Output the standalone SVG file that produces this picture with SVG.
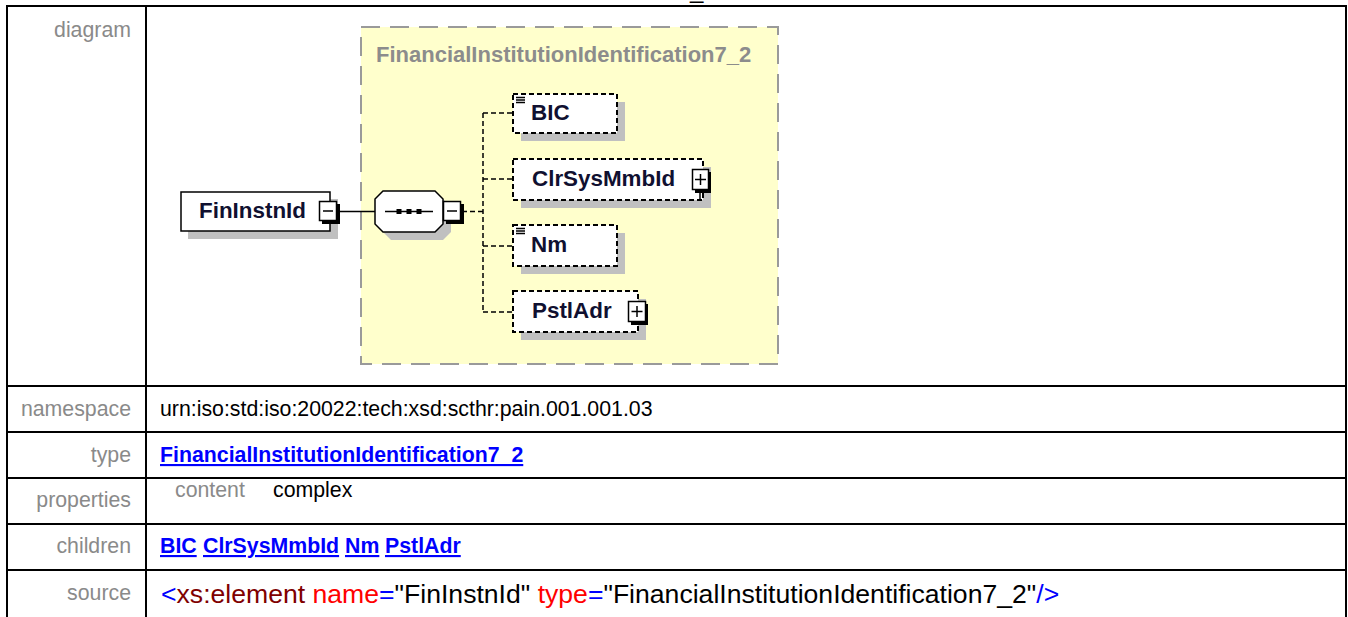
<svg xmlns="http://www.w3.org/2000/svg" width="1348" height="617" viewBox="0 0 1348 617">
<style>
.tl{stroke:#000;stroke-width:2;fill:none}
.lab{font-family:"Liberation Sans",Arial,sans-serif;font-size:21.3px;fill:#8a8a8a;text-anchor:end}
.val{font-family:"Liberation Sans",Arial,sans-serif;font-size:21.3px;fill:#000}
.lnk{font-family:"Liberation Sans",Arial,sans-serif;font-size:21.3px;font-weight:bold;fill:#0000ff;text-decoration:underline}
.src{font-family:"Liberation Sans",Arial,sans-serif;font-size:26.6px}
.nt{font-family:"Liberation Sans",Arial,sans-serif;font-size:22.4px;font-weight:bold;fill:#101030}
.shadow{fill:#c0c0c0}
.box{fill:#fff;stroke:#000;stroke-width:1.5}
.dbox{fill:#fff;stroke:#000;stroke-width:2;stroke-dasharray:5 3}
.btn{fill:#fff;stroke:#000;stroke-width:1.5}
.btnsh{fill:#000}
.sym{stroke:#000;stroke-width:1.5;fill:none}
.conn{stroke:#000;stroke-width:1.5;fill:none}
.dconn{stroke:#000;stroke-width:1.5;fill:none;stroke-dasharray:5 3}
</style>

<text x="690" y="-2.5" font-family="Liberation Sans, Arial, sans-serif" font-size="24" fill="#000">_</text>

<!-- table -->
<g id="table">
  <rect x="7" y="6" width="1339" height="640" class="tl"/>
  <line x1="146" y1="6" x2="146" y2="617" class="tl"/>
  <line x1="7" y1="386" x2="1346" y2="386" class="tl"/>
  <line x1="7" y1="432" x2="1346" y2="432" class="tl"/>
  <line x1="7" y1="478" x2="1346" y2="478" class="tl"/>
  <line x1="7" y1="524" x2="1346" y2="524" class="tl"/>
  <line x1="7" y1="570" x2="1346" y2="570" class="tl"/>
  <text x="131" y="37" class="lab">diagram</text>
  <text x="131" y="416" class="lab">namespace</text>
  <text x="131" y="462" class="lab">type</text>
  <text x="131" y="507" class="lab">properties</text>
  <text x="131" y="553" class="lab">children</text>
  <text x="131" y="600" class="lab">source</text>
  <text x="160" y="416" class="val">urn:iso:std:iso:20022:tech:xsd:scthr:pain.001.001.03</text>
  <text x="160" y="462" class="lnk">FinancialInstitutionIdentification7_2</text>
  <text x="175" y="497" class="val" style="fill:#8a8a8a">content</text>
  <text x="273" y="497" class="val">complex</text>
  <text x="160" y="553" class="lnk">BIC</text>
  <text x="203" y="553" class="lnk">ClrSysMmbId</text>
  <text x="345" y="553" class="lnk">Nm</text>
  <text x="385" y="553" class="lnk">PstlAdr</text>
  <text x="161" y="603" class="src"><tspan fill="#0000ff">&lt;</tspan><tspan fill="#800000">xs:element</tspan><tspan fill="#ff0000"> name</tspan><tspan fill="#0000ff">=</tspan><tspan fill="#000">"FinInstnId"</tspan><tspan fill="#ff0000"> type</tspan><tspan fill="#0000ff">=</tspan><tspan fill="#000">"FinancialInstitutionIdentification7_2"</tspan><tspan fill="#0000ff">/&gt;</tspan></text>
</g>

<!-- complex type container -->
<g id="type-box">
  <rect x="361" y="27" width="417" height="337" fill="#ffffcc" stroke="#9a9a9a" stroke-width="2" stroke-dasharray="19 10"/>
  <text x="376" y="62" font-family="Liberation Sans, Arial, sans-serif" font-size="22px" font-weight="bold" fill="#8c8c8c">FinancialInstitutionIdentification7_2</text>
</g>

<!-- connectors -->
<g id="connectors">
  <line x1="337" y1="211.5" x2="375" y2="211.5" class="conn"/>
  <line x1="462" y1="211.5" x2="483" y2="211.5" class="dconn"/>
  <line x1="483" y1="113" x2="483" y2="312" class="dconn"/>
  <line x1="483" y1="113" x2="513" y2="113" class="dconn"/>
  <line x1="483" y1="179" x2="513" y2="179" class="dconn"/>
  <line x1="483" y1="246" x2="513" y2="246" class="dconn"/>
  <line x1="483" y1="312" x2="513" y2="312" class="dconn"/>
</g>

<!-- root element -->
<g id="FinInstnId">
  <rect x="188" y="199" width="150" height="40" class="shadow"/>
  <rect x="181" y="192" width="149" height="39" class="box"/>
  <text x="199" y="218" class="nt">FinInstnId</text>
  <rect x="322" y="204" width="18" height="20" class="btnsh"/>
  <rect x="319.5" y="201.5" width="17" height="19" class="btn"/>
  <line x1="323" y1="211" x2="333" y2="211" class="sym"/>
</g>

<!-- sequence compositor -->
<g id="sequence">
  <polygon points="391,199 443,199 451,207 451,232 443,240 391,240 383,232 383,207" class="shadow"/>
  <polygon points="383,191 435,191 443,199 443,224 435,232 383,232 375,224 375,199" class="box"/>
  <line x1="385" y1="211.5" x2="433" y2="211.5" class="sym"/>
  <rect x="396.5" y="209" width="5" height="5" fill="#000"/>
  <rect x="406.5" y="209" width="5" height="5" fill="#000"/>
  <rect x="416.5" y="209" width="5" height="5" fill="#000"/>
  <rect x="446" y="204" width="18" height="20" class="btnsh"/>
  <rect x="443.5" y="201.5" width="17" height="19" class="btn"/>
  <line x1="447" y1="211" x2="457" y2="211" class="sym"/>
</g>

<!-- children -->
<g id="BIC">
  <rect x="521" y="102" width="104" height="39" class="shadow"/>
  <rect x="513" y="94" width="104" height="39" class="dbox"/>
  <line x1="516" y1="97.5" x2="525" y2="97.5" class="sym" stroke-width="1"/>
  <line x1="516" y1="100" x2="525" y2="100" class="sym" stroke-width="1"/>
  <line x1="516" y1="102.5" x2="525" y2="102.5" class="sym" stroke-width="1"/>
  <text x="531" y="120" class="nt">BIC</text>
</g>

<g id="ClrSysMmbId">
  <rect x="521" y="167" width="190" height="41" class="shadow"/>
  <rect x="513" y="159" width="190" height="41" class="dbox"/>
  <text x="532" y="186" class="nt">ClrSysMmbId</text>
  <line x1="700" y1="190" x2="700" y2="200" class="sym"/>
  <rect x="695" y="172" width="16" height="21" class="btnsh"/>
  <rect x="692.5" y="169.5" width="16" height="20" class="btn"/>
  <line x1="695" y1="179.5" x2="706" y2="179.5" class="sym"/>
  <line x1="700.5" y1="174" x2="700.5" y2="185" class="sym"/>
</g>

<g id="Nm">
  <rect x="521" y="233" width="104" height="41" class="shadow"/>
  <rect x="513" y="225" width="104" height="41" class="dbox"/>
  <line x1="516" y1="228.5" x2="525" y2="228.5" class="sym" stroke-width="1"/>
  <line x1="516" y1="231" x2="525" y2="231" class="sym" stroke-width="1"/>
  <line x1="516" y1="233.5" x2="525" y2="233.5" class="sym" stroke-width="1"/>
  <text x="531" y="252" class="nt">Nm</text>
</g>

<g id="PstlAdr">
  <rect x="521" y="299" width="125" height="41" class="shadow"/>
  <rect x="513" y="291" width="125" height="41" class="dbox"/>
  <text x="532" y="318" class="nt">PstlAdr</text>
  <rect x="631" y="304" width="17" height="21" class="btnsh"/>
  <rect x="628.5" y="301.5" width="17" height="20" class="btn"/>
  <line x1="631.5" y1="311.5" x2="642.5" y2="311.5" class="sym"/>
  <line x1="637" y1="306" x2="637" y2="317" class="sym"/>
</g>
</svg>
